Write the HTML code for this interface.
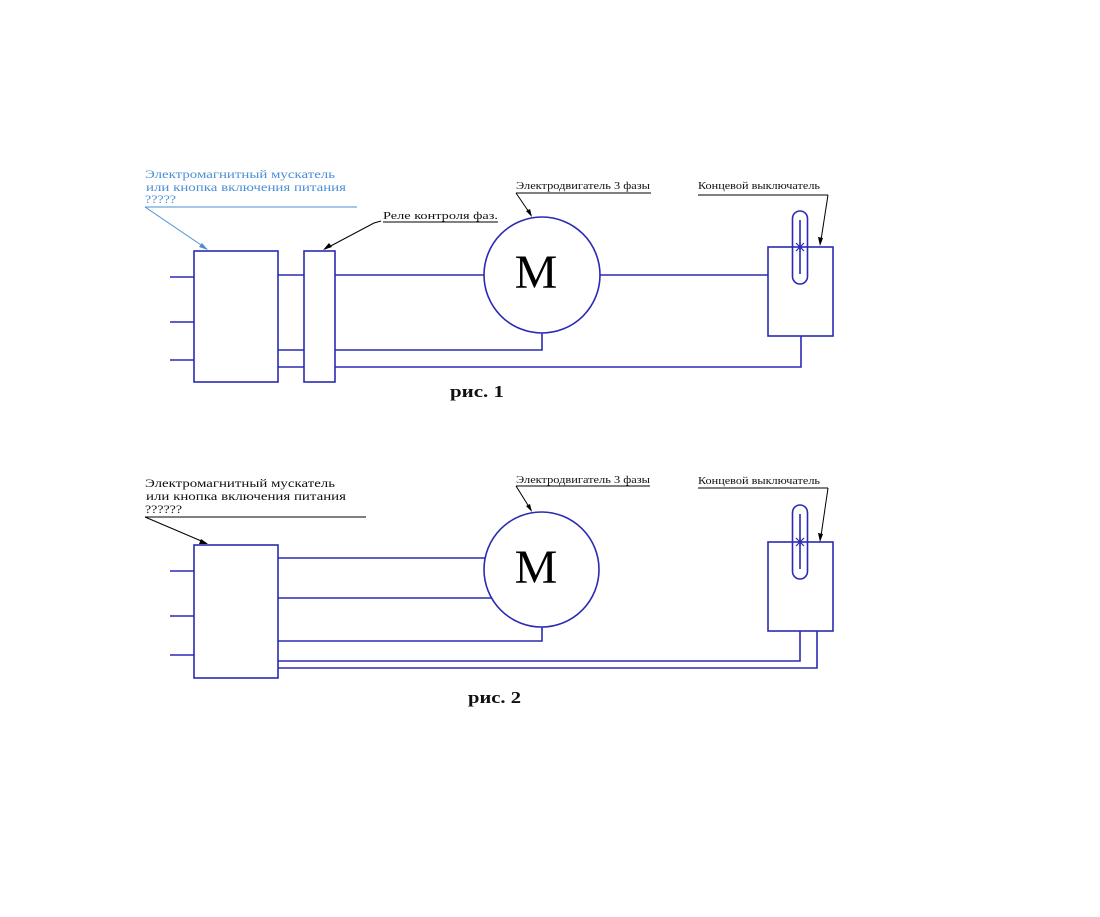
<!DOCTYPE html>
<html><head><meta charset="utf-8"><style>
html,body{margin:0;padding:0;background:#fff;}
svg{display:block;}
.l{stroke:#2a2ab4;stroke-width:1.6;fill:none;}
.k{stroke:#000;stroke-width:1;fill:none;}
.t{font-family:"Liberation Serif","DejaVu Serif",serif;font-size:11px;fill:#111;}
.tb{font-family:"Liberation Serif","DejaVu Serif",serif;font-size:12px;fill:#4a8fd6;}
.tk{font-family:"Liberation Serif","DejaVu Serif",serif;font-size:12px;fill:#111;}
.cap{font-family:"Liberation Serif","DejaVu Serif",serif;font-size:17px;font-weight:bold;fill:#111;}
.m{font-family:"Liberation Serif","DejaVu Serif",serif;font-size:48px;fill:#000;}
</style></head><body>
<svg width="1100" height="917" viewBox="0 0 1100 917" xmlns="http://www.w3.org/2000/svg">
<!-- ===== FIG 1 ===== -->
<text class="tb" x="145" y="178" textLength="190" lengthAdjust="spacingAndGlyphs">Электромагнитный мускатель</text>
<text class="tb" x="146" y="191" textLength="200" lengthAdjust="spacingAndGlyphs">или кнопка включения питания</text>
<text class="tb" x="145" y="203" textLength="31" lengthAdjust="spacingAndGlyphs">?????</text>
<line x1="145" y1="207" x2="357" y2="207" stroke="#4a8fd6" stroke-width="1"/>
<line x1="145" y1="207" x2="207" y2="249" stroke="#4a8fd6" stroke-width="1"/>
<polygon points="208,250 199,247 202,243" fill="#4a8fd6"/>

<rect class="l" x="194" y="251" width="84" height="131"/>
<rect class="l" x="304" y="251" width="31" height="131"/>
<line class="l" x1="170" y1="277" x2="194" y2="277"/>
<line class="l" x1="170" y1="322" x2="194" y2="322"/>
<line class="l" x1="170" y1="360" x2="194" y2="360"/>
<line class="l" x1="278" y1="275" x2="304" y2="275"/>
<line class="l" x1="278" y1="350" x2="304" y2="350"/>
<line class="l" x1="278" y1="367" x2="304" y2="367"/>
<line class="l" x1="335" y1="275" x2="484" y2="275"/>
<polyline class="l" points="335,350 542,350 542,333"/>
<polyline class="l" points="335,367 801,367 801,336"/>

<text class="t" x="383" y="219" textLength="115" lengthAdjust="spacingAndGlyphs">Реле контроля фаз.</text>
<line class="k" x1="383" y1="222" x2="498" y2="222"/>
<polyline class="k" points="381,221 374,223 325,249"/>
<polygon points="323,250 329,243 332,247" fill="#000"/>

<circle class="l" cx="542" cy="275" r="58"/>
<text class="m" x="536" y="288" text-anchor="middle">M</text>
<text class="t" x="516" y="189" textLength="134" lengthAdjust="spacingAndGlyphs">Электродвигатель 3 фазы</text>
<line class="k" x1="516" y1="193" x2="651" y2="193"/>
<line class="k" x1="516" y1="193" x2="531" y2="215"/>
<polygon points="532,217 526,211 530,209" fill="#000"/>

<line class="l" x1="600" y1="275" x2="768" y2="275"/>
<rect class="l" x="768" y="247" width="65" height="89"/>
<rect class="l" x="792.5" y="211" width="15" height="73" rx="7.5" ry="7.5" stroke-width="1.2"/>
<line class="l" x1="800" y1="220" x2="800" y2="274" stroke-width="1.2"/>
<g stroke="#2a2ab4" stroke-width="1.2"><line x1="796" y1="243" x2="804" y2="251"/><line x1="804" y1="243" x2="796" y2="251"/><line x1="800" y1="242" x2="800" y2="252"/></g>
<text class="t" x="698" y="189" textLength="122" lengthAdjust="spacingAndGlyphs">Концевой выключатель</text>
<line class="k" x1="698" y1="195" x2="828" y2="195"/>
<line class="k" x1="828" y1="195" x2="821" y2="240"/>
<polygon points="820,246 818,237 823,238" fill="#000"/>

<text class="cap" x="450" y="397" textLength="54" lengthAdjust="spacingAndGlyphs">рис. 1</text>

<!-- ===== FIG 2 ===== -->
<text class="tk" x="145" y="487" textLength="190" lengthAdjust="spacingAndGlyphs">Электромагнитный мускатель</text>
<text class="tk" x="146" y="500" textLength="200" lengthAdjust="spacingAndGlyphs">или кнопка включения питания</text>
<text class="tk" x="145" y="513" textLength="37" lengthAdjust="spacingAndGlyphs">??????</text>
<line class="k" x1="145" y1="517" x2="366" y2="517"/>
<line class="k" x1="145" y1="517" x2="206" y2="543"/>
<polygon points="208,544 199,544 201,539" fill="#000"/>

<rect class="l" x="194" y="545" width="84" height="133"/>
<line class="l" x1="170" y1="571" x2="194" y2="571"/>
<line class="l" x1="170" y1="616" x2="194" y2="616"/>
<line class="l" x1="170" y1="655" x2="194" y2="655"/>
<line class="l" x1="278" y1="558" x2="485" y2="558"/>
<line class="l" x1="278" y1="598" x2="492" y2="598"/>
<polyline class="l" points="278,641 542,641 542,627"/>
<polyline class="l" points="278,661 800,661 800,631"/>
<polyline class="l" points="278,668 817,668 817,631"/>

<circle class="l" cx="541.5" cy="569.5" r="57.5"/>
<text class="m" x="536" y="583" text-anchor="middle">M</text>
<text class="t" x="516" y="483" textLength="134" lengthAdjust="spacingAndGlyphs">Электродвигатель 3 фазы</text>
<line class="k" x1="516" y1="486" x2="650" y2="486"/>
<line class="k" x1="516" y1="486" x2="531" y2="510"/>
<polygon points="532,512 526,506 530,504" fill="#000"/>

<rect class="l" x="768" y="542" width="65" height="89"/>
<rect class="l" x="792.5" y="505" width="15" height="74" rx="7.5" ry="7.5" stroke-width="1.2"/>
<line class="l" x1="800" y1="514" x2="800" y2="569" stroke-width="1.2"/>
<g stroke="#2a2ab4" stroke-width="1.2"><line x1="796" y1="538" x2="804" y2="546"/><line x1="804" y1="538" x2="796" y2="546"/><line x1="800" y1="537" x2="800" y2="547"/></g>
<text class="t" x="698" y="484" textLength="122" lengthAdjust="spacingAndGlyphs">Концевой выключатель</text>
<line class="k" x1="698" y1="488" x2="828" y2="488"/>
<line class="k" x1="828" y1="488" x2="821" y2="536"/>
<polygon points="820,542 818,533 823,534" fill="#000"/>

<text class="cap" x="468" y="703" textLength="53" lengthAdjust="spacingAndGlyphs">рис. 2</text>
</svg>
</body></html>
